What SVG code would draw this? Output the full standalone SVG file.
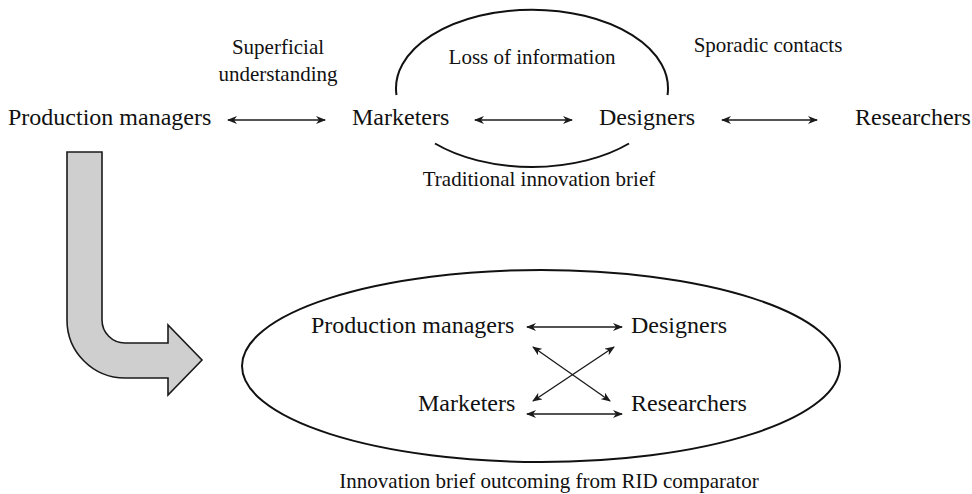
<svg xmlns="http://www.w3.org/2000/svg" width="972" height="494" viewBox="0 0 972 494">
  <defs>
    <marker id="head" viewBox="0 0 10 8" refX="9" refY="4" markerWidth="10" markerHeight="8" markerUnits="userSpaceOnUse" orient="auto-start-reverse">
      <path d="M0,0 L10,4 L0,8 L3,4 Z" fill="#1a1a1a"/>
    </marker>
    <style>
      .lbl { font-family: "Liberation Serif", "Times New Roman", serif; fill: #111; }
      .big { font-size: 24px; }
      .small { font-size: 21px; }
      .link { stroke: #1a1a1a; stroke-width: 1.3; fill: none; marker-start: url(#head); marker-end: url(#head); }
      .curve { stroke: #111; stroke-width: 2; fill: none; }
    </style>
  </defs>
  <rect width="972" height="494" fill="#fff"/>

  <!-- traditional process: nodes -->
  <g id="top-production-managers"><text class="lbl big" x="8" y="125">Production managers</text></g>
  <g id="top-marketers"><text class="lbl big" x="352" y="125">Marketers</text></g>
  <g id="top-designers"><text class="lbl big" x="599" y="125">Designers</text></g>
  <g id="top-researchers"><text class="lbl big" x="855" y="125">Researchers</text></g>

  <!-- traditional process: annotations -->
  <g id="note-superficial">
    <text class="lbl small" x="278" y="54" text-anchor="middle">Superficial</text>
    <text class="lbl small" x="278" y="81" text-anchor="middle">understanding</text>
  </g>
  <g id="note-sporadic"><text class="lbl small" x="768" y="52" text-anchor="middle">Sporadic contacts</text></g>
  <g id="note-loss">
    <path class="curve" d="M396.5,95 A136,78.5 0 1 1 667.5,95"/>
    <text class="lbl small" x="532" y="64" text-anchor="middle">Loss of information</text>
  </g>
  <g id="note-brief">
    <path class="curve" d="M435,143.5 A136,78.5 0 0 0 629,143.5"/>
    <text class="lbl small" x="539" y="186" text-anchor="middle">Traditional innovation brief</text>
  </g>

  <!-- transition arrow -->
  <g id="transition">
    <path d="M67,152 H102 V320 A23,23 0 0 0 125,343 H168 V325 L202,360 L168,395 V378 H125 A58,58 0 0 1 67,320 Z" fill="#cfcfcf" stroke="#1a1a1a" stroke-width="1.6" stroke-linejoin="miter"/>
  </g>

  <!-- RID comparator -->
  <g id="rid-comparator">
    <ellipse cx="541" cy="366" rx="299" ry="96" fill="none" stroke="#111" stroke-width="2"/>
    <text class="lbl small" x="549" y="488" text-anchor="middle">Innovation brief outcoming from RID comparator</text>
  </g>
  <g id="rid-production-managers"><text class="lbl big" x="311" y="333">Production managers</text></g>
  <g id="rid-designers"><text class="lbl big" x="631" y="333">Designers</text></g>
  <g id="rid-marketers"><text class="lbl big" x="418" y="411">Marketers</text></g>
  <g id="rid-researchers"><text class="lbl big" x="631" y="411">Researchers</text></g>

  <!-- connectors -->
  <g id="connectors">
    <line class="link" x1="228" y1="120" x2="325" y2="120"/>
    <line class="link" x1="475" y1="120" x2="572" y2="120"/>
    <line class="link" x1="722" y1="120" x2="817" y2="120"/>
    <line class="link" x1="527" y1="327" x2="622" y2="327"/>
    <line class="link" x1="527" y1="414" x2="622" y2="414"/>
    <line class="link" x1="533" y1="347" x2="610" y2="401"/>
    <line class="link" x1="533" y1="401" x2="614" y2="347"/>
  </g>
</svg>
